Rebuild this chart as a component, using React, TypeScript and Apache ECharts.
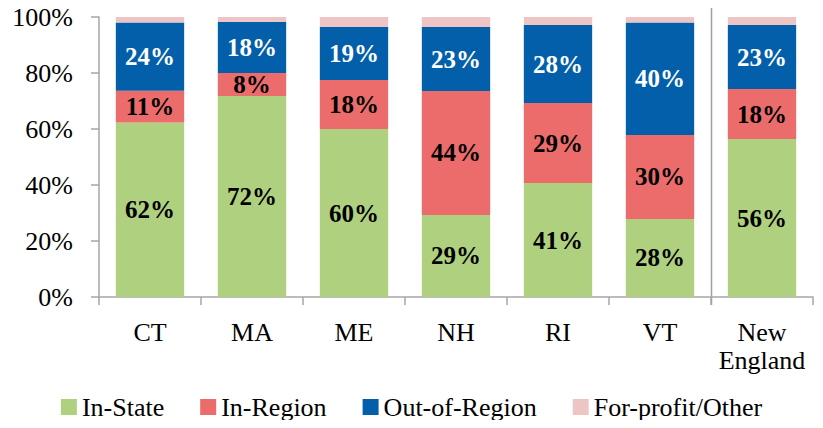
import React, { useEffect, useRef } from "react";
import * as echarts from "echarts";

const categories = ["CT", "MA", "ME", "NH", "RI", "VT", "New\nEngland"];
const inState = [62.3, 71.8, 60.0, 29.3, 40.7, 27.9, 56.4];
const inRegion = [11.4, 8.2, 17.5, 44.3, 28.6, 30.0, 17.9];
const outOfRegion = [24.3, 18.2, 18.9, 22.8, 27.8, 40.1, 22.8];
const forProfit = [2.0, 1.8, 3.6, 3.6, 2.9, 2.0, 2.9];
const yTicks = [0, 20, 40, 60, 80, 100];

const FONT = "Liberation Serif";

export default function App() {
  const ref = useRef<HTMLDivElement>(null);
  useEffect(() => {
    if (!ref.current) return;
    const chart = echarts.init(ref.current, null, { renderer: "svg" });
    const labelFmt = (p: any) => Math.round(p.value) + "%";
    const mk = (name: string, data: number[], color: string, labelColor: string | null) => ({
      name,
      type: "bar",
      stack: "total",
      data,
      barWidth: "67%",
      itemStyle: { color },
      label: labelColor
        ? {
            show: true,
            position: "inside",
            formatter: labelFmt,
            color: labelColor,
            fontFamily: FONT,
            fontSize: 25,
            fontWeight: "bold",
          }
        : { show: false },
    });
    chart.setOption({
      animation: false,
      textStyle: { fontFamily: FONT },
      grid: { left: 99, right: 10, top: 17, bottom: 131, containLabel: false },
      legend: {
        top: 394,
        left: "center",
        padding: 0,
        itemWidth: 16,
        itemHeight: 16,
        itemGap: 36,
        icon: "rect",
        textStyle: { fontFamily: FONT, fontSize: 26, color: "#000", lineHeight: 26 },
        data: ["In-State", "In-Region", "Out-of-Region", "For-profit/Other"],
      },
      xAxis: {
        type: "category",
        data: categories,
        axisLine: { lineStyle: { color: "#a6a6a6", width: 1.5 } },
        axisTick: { show: true, length: 8, lineStyle: { color: "#a6a6a6", width: 1.5 } },
        axisLabel: {
          fontFamily: FONT,
          fontSize: 26,
          color: "#000",
          margin: 21,
          lineHeight: 28,
          interval: 0,
        },
      },
      yAxis: {
        type: "value",
        min: 0,
        max: 100,
        interval: 20,
        axisLine: { show: true, lineStyle: { color: "#a6a6a6", width: 1.5 } },
        axisTick: { show: true, length: 8, lineStyle: { color: "#a6a6a6", width: 1.5 } },
        splitLine: { show: false },
        axisLabel: {
          fontFamily: FONT,
          fontSize: 26,
          color: "#000",
          margin: 26,
          formatter: (v: number) => (yTicks.includes(v) ? v + "%" : ""),
        },
      },
      series: [
        mk("In-State", inState, "#afd07f", "#000"),
        mk("In-Region", inRegion, "#ec6c6c", "#000"),
        mk("Out-of-Region", outOfRegion, "#045faa", "#fff"),
        mk("For-profit/Other", forProfit, "#eec5c5", null),
      ],
    });
    const a = chart.convertToPixel({ xAxisIndex: 0 }, 5) as number;
    const b = chart.convertToPixel({ xAxisIndex: 0 }, 6) as number;
    const y0 = chart.convertToPixel({ yAxisIndex: 0 }, 0) as number;
    const sx = Math.round((a + b) / 2) + 0.5;
    chart.setOption({
      graphic: [
        {
          type: "line",
          shape: { x1: sx, y1: 0, x2: sx, y2: y0 + 8 },
          style: { stroke: "#a0a0a0", lineWidth: 1.5 },
        },
      ],
    });
    return () => chart.dispose();
  }, []);
  return <div ref={ref} style={{ width: 823, height: 428, margin: -8 }} />;
}
